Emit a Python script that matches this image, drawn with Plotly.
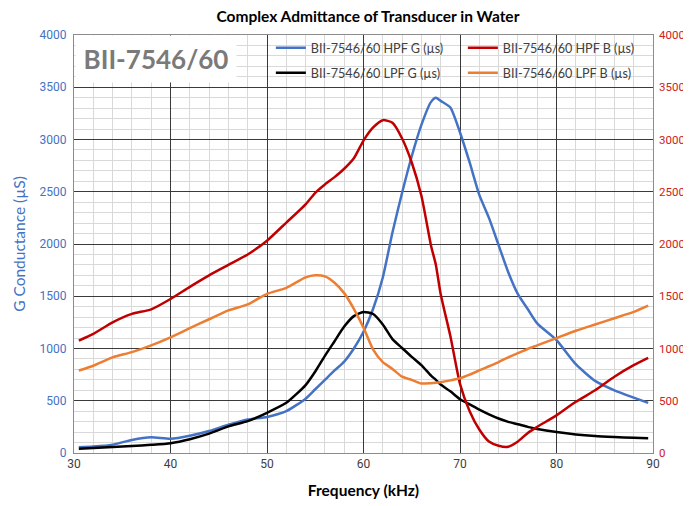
import plotly.graph_objects as go

freq_khz = [30.5, 32, 34, 36, 38, 40, 42, 44, 46, 48, 50, 52, 54, 55, 56, 57, 58, 59,
            60, 61, 62, 63, 64, 65, 66, 67, 67.5, 68, 69, 70, 71, 72, 73, 74, 75, 76,
            77, 78, 80, 82, 84, 86, 88, 89.5]

hpf_g = [55, 62, 80, 125, 150, 136, 165, 210, 270, 320, 345, 400, 520, 610, 700, 790, 875, 1000,
         1160, 1380, 1680, 2110, 2490, 2840, 3140, 3360, 3400, 3370, 3306, 3067, 2780, 2470, 2250, 1990, 1730, 1520,
         1380, 1240, 1080, 850, 690, 600, 530, 480]

hpf_b = [1076, 1140, 1250, 1331, 1375, 1474, 1590, 1700, 1800, 1900, 2032, 2205, 2380, 2490, 2570, 2640, 2720, 2820,
         2990, 3115, 3185, 3160, 3010, 2780, 2462, 1984, 1800, 1520, 1120, 662, 400, 225, 110, 70, 60, 110,
         190, 250, 360, 490, 600, 730, 840, 910]

lpf_g = [40, 48, 57, 66, 78, 94, 132, 185, 255, 305, 385, 480, 650, 780, 930, 1070, 1210, 1310,
         1350, 1330, 1230, 1090, 1005, 920, 840, 740, 700, 655, 590, 515, 465, 415, 370, 330, 298, 275,
         250, 230, 200, 177, 162, 153, 146, 142]

lpf_b = [789, 835, 915, 965, 1030, 1107, 1195, 1280, 1365, 1422, 1522, 1580, 1680, 1700, 1690, 1630, 1530, 1380,
         1200, 990, 870, 805, 730, 700, 665, 668, 672, 678, 695, 715, 750, 790, 830, 870, 915, 955,
         995, 1030, 1100, 1170, 1230, 1290, 1350, 1410]

series = [
    ("BII-7546/60 HPF G (µs)", hpf_g, "#4472C4", "y", "legend"),
    ("BII-7546/60 HPF B (µs)", hpf_b, "#C00000", "y2", "legend"),
    ("BII-7546/60 LPF G (µs)", lpf_g, "#000000", "y", "legend2"),
    ("BII-7546/60 LPF B (µs)", lpf_b, "#ED7D31", "y2", "legend2"),
]

y_ticks = list(range(0, 4001, 500))
x_ticks = list(range(30, 91, 10))

fig = go.Figure()
for name, vals, color, yax, leg in series:
    fig.add_trace(go.Scatter(x=freq_khz, y=vals, name=name, yaxis=yax, mode="lines", legend=leg,
                             line=dict(color=color, width=2.5, shape="spline", smoothing=0.6)))

label_font = "Lato, 'Open Sans', sans-serif"
tick_font = "Roboto, Arial, sans-serif"

legend_common = dict(orientation="h", xanchor="left", x=0.340, yanchor="middle",
                     bgcolor="rgba(0,0,0,0)", borderwidth=0, entrywidth=147, itemwidth=30,
                     font=dict(family=label_font, size=12.6, color="#404040"), traceorder="normal")

fig.update_layout(
    width=683, height=498,
    margin=dict(l=66, r=38, t=27, b=53),
    paper_bgcolor="white", plot_bgcolor="white",
    title=dict(text="<b>Complex Admittance of Transducer in Water</b>", x=0.527, xanchor="center",
               yref="container", y=0.993, yanchor="top", pad=dict(t=0, b=0),
               font=dict(family=label_font, size=15.5, color="#000000")),
    xaxis=dict(range=[30, 90], tickvals=x_ticks, showgrid=True, gridcolor="#3a3a3a", gridwidth=1,
               minor=dict(dtick=2, showgrid=True, gridcolor="#d9d9d9", gridwidth=1),
               showline=True, linecolor="#8c8c8c", linewidth=1, mirror=True, zeroline=False,
               automargin=False,
               ticks="", tickfont=dict(family=tick_font, size=12, color="#404040"),
               title=dict(text="<b>Frequency (kHz)</b>", font=dict(family=label_font, size=15.5, color="#000000"),
                          standoff=14)),
    yaxis=dict(range=[0, 4000], tickvals=y_ticks, showgrid=True, gridcolor="#3a3a3a", gridwidth=1,
               minor=dict(dtick=100, showgrid=True, gridcolor="#d9d9d9", gridwidth=1),
               showline=True, linecolor="#8c8c8c", linewidth=1, mirror=True, zeroline=False,
               automargin=False,
               ticks="", ticklabelstandoff=4, tickfont=dict(family=tick_font, size=12, color="#4472C4"),
               title=dict(text="G Conductance (µS)", font=dict(family=label_font, size=15.5, color="#4472C4"),
                          standoff=10)),
    yaxis2=dict(range=[0, 4000], tickvals=y_ticks, overlaying="y", side="right", showgrid=False,
                zeroline=False, showline=False, ticks="", ticklabelstandoff=5, automargin=False,
                tickfont=dict(family=tick_font, size=11.5, color="#D02020")),
    legend=dict(legend_common, y=0.969),
    legend2=dict(legend_common, y=0.909),
    showlegend=True,
)

# white backing behind the legend (drawn above gridlines, below traces)
fig.add_shape(type="rect", xref="paper", yref="paper", x0=0.333, x1=0.999, y0=0.884, y1=0.999,
              fillcolor="white", line=dict(width=0), layer="between")

fig.add_annotation(xref="paper", yref="paper", x=0.0015, y=0.999, xanchor="left", yanchor="top",
                   text="<b>BII-7546/60</b>", showarrow=False, bgcolor="white", width=158, height=44,
                   font=dict(family=label_font, size=26, color="#7a7a7a"))

fig.write_html("out.html")
